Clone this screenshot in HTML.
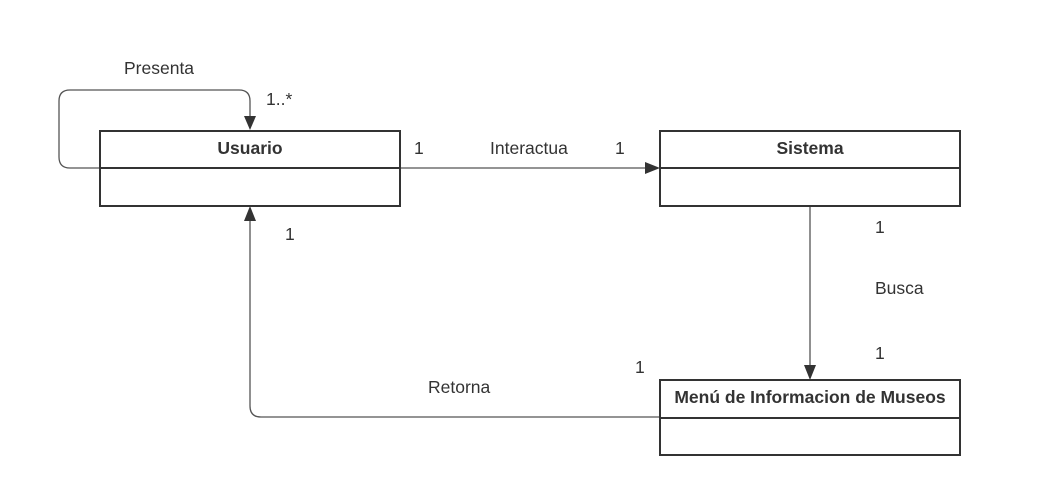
<!DOCTYPE html>
<html><head><meta charset="utf-8"><style>
html,body{margin:0;padding:0;background:#fff;}
svg{display:block;}
text{font-family:"Liberation Sans",Arial,sans-serif;fill:#333;font-size:17.5px;}
.b{font-weight:bold;font-size:17.5px;fill:#333;}
</style></head><body>
<svg width="1060" height="495" viewBox="0 0 1060 495" xmlns="http://www.w3.org/2000/svg">
<g fill="none" stroke="#555" stroke-width="1.3">
<path d="M100 168 H70 Q59 168 59 157 V101 Q59 90 70 90 H239 Q250 90 250 101 V118"/>
<path d="M400 168 H646"/>
<path d="M810 206 V366"/>
<path d="M660 417 H261 Q250 417 250 406 V220"/>
</g>
<g fill="#333">
<polygon points="244,116 256,116 250,130"/>
<polygon points="645,162 645,174 660,168"/>
<polygon points="804,365 816,365 810,380"/>
<polygon points="244,221 256,221 250,206"/>
</g>
<g fill="#fff" stroke="#333" stroke-width="2">
<rect x="100" y="131" width="300" height="75"/>
<line x1="100" y1="168" x2="400" y2="168"/>
<rect x="660" y="131" width="300" height="75"/>
<line x1="660" y1="168" x2="960" y2="168"/>
<rect x="660" y="380" width="300" height="75"/>
<line x1="660" y1="418" x2="960" y2="418"/>
</g>
<text class="b" x="250" y="154" text-anchor="middle">Usuario</text>
<text class="b" x="810" y="154" text-anchor="middle">Sistema</text>
<text class="b" x="810" y="403" text-anchor="middle">Menú de Informacion de Museos</text>
<text x="124" y="74">Presenta</text>
<text x="266" y="105">1..*</text>
<text x="414" y="154">1</text>
<text x="490" y="154">Interactua</text>
<text x="615" y="154">1</text>
<text x="285" y="240">1</text>
<text x="875" y="233">1</text>
<text x="875" y="294">Busca</text>
<text x="875" y="359">1</text>
<text x="635" y="373">1</text>
<text x="428" y="393">Retorna</text>
</svg>
</body></html>
